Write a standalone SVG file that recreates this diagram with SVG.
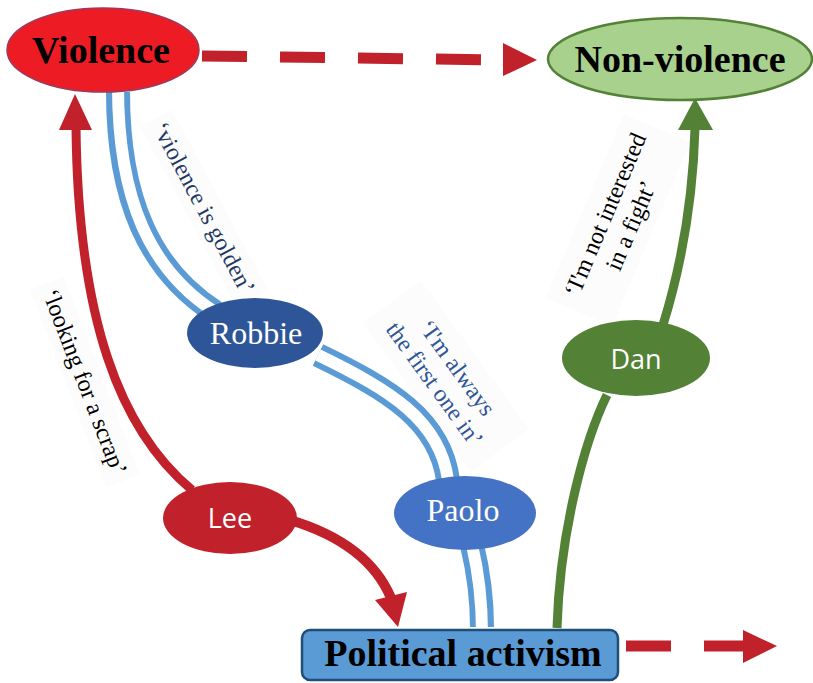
<svg xmlns="http://www.w3.org/2000/svg" width="813" height="683" viewBox="0 0 813 683">
<style>
.title{font-family:"Liberation Serif",serif;font-weight:bold;font-size:38px;fill:#000;text-anchor:middle}
.name{font-family:"Liberation Serif",serif;font-size:32px;fill:#fff;text-anchor:middle}
.sans{font-family:"Open Sans","Liberation Sans",sans-serif;font-size:27px;fill:#fff;text-anchor:middle}
.quote{font-family:"Liberation Serif",serif;font-size:24px;text-anchor:middle}
.red{fill:none;stroke:#C1212A}
.blueOuter{fill:none;stroke:#5B9BD5;stroke-width:24}
.blueInner{fill:none;stroke:#fff;stroke-width:12}
.lblbg{fill:#FCFCFC}
</style>
<rect width="813" height="683" fill="#fff"/>
<g id="labels">
  <g transform="translate(204,208) rotate(62)">
    <rect class="lblbg" x="-102" y="-18" width="204" height="36"/>
    <text class="quote" y="8" fill="#1F3864">‘violence is golden’</text>
  </g>
  <g transform="translate(446,376) rotate(54)">
    <rect class="lblbg" x="-92" y="-36" width="184" height="72"/>
    <text class="quote" y="-6" fill="#2F5597">‘I'm always</text>
    <text class="quote" y="22" fill="#2F5597">the first one in’</text>
  </g>
  <g transform="translate(618,220) rotate(-67)">
    <rect class="lblbg" x="-100" y="-36" width="200" height="72"/>
    <text class="quote" y="-6" fill="#000">‘I'm not interested</text>
    <text class="quote" y="22" fill="#000">in a fight’</text>
  </g>
  <g transform="translate(85,382) rotate(69)">
    <rect class="lblbg" x="-106" y="-18" width="212" height="36"/>
    <text class="quote" y="8" fill="#000">‘looking for a scrap’</text>
  </g>
</g>
<g id="connectors">
  <path class="red" d="M202 56 L505 60" stroke-width="11" stroke-dasharray="45 33"/>
  <polygon points="503,43 537,60 503,76" fill="#C1212A"/>
  <path class="red" d="M626 646 L745 646" stroke-width="11" stroke-dasharray="45 33"/>
  <polygon points="743,630 777,646 743,663" fill="#C1212A"/>
  <path class="blueOuter" d="M118 92 C118 200 150 270 215 312"/>
  <path class="blueInner" d="M118 86 C118 200 150 270 215 312"/>
  <path class="blueOuter" d="M318 355 C390 390 440 420 448 480"/>
  <path class="blueInner" d="M318 355 C390 390 440 420 448 480"/>
  <path class="blueOuter" d="M472 545 C478 570 482 600 482 627"/>
  <path class="blueInner" d="M472 545 C478 570 482 600 482 634"/>
  <path class="red" d="M192 490 C120 430 78 320 76 127" stroke-width="9"/>
  <polygon points="75,94 92,130 59,130" fill="#C1212A"/>
  <path class="red" d="M290 520 C340 535 375 560 391 598" stroke-width="10"/>
  <polygon points="375,600 407,592 398,627" fill="#C1212A"/>
  <path d="M663 325 C680 270 693 200 695 128" fill="none" stroke="#538135" stroke-width="9"/>
  <polygon points="695,98 713,130 678,130" fill="#538135"/>
  <path d="M607 395 C585 440 560 530 557 628" fill="none" stroke="#538135" stroke-width="9"/>
</g>
<g id="violence">
  <ellipse cx="103" cy="50" rx="96" ry="42" fill="#ED1C24" stroke="#9C3A5E" stroke-width="1.5"/>
  <text class="title" x="101" y="63">Violence</text>
</g>
<g id="nonviolence">
  <ellipse cx="680" cy="59" rx="132" ry="41" fill="#A9D18E" stroke="#538135" stroke-width="2.5"/>
  <text class="title" x="680" y="72">Non-violence</text>
</g>
<g id="robbie">
  <ellipse cx="255" cy="333" rx="68" ry="35" fill="#2E5597"/>
  <text class="name" x="256" y="344">Robbie</text>
</g>
<g id="paolo">
  <ellipse cx="465" cy="513" rx="71" ry="37" fill="#4472C4"/>
  <text class="name" x="463" y="521">Paolo</text>
</g>
<g id="lee">
  <ellipse cx="230" cy="518" rx="67" ry="36" fill="#C1212A"/>
  <text class="sans" x="230" y="528">Lee</text>
</g>
<g id="dan">
  <ellipse cx="636" cy="358" rx="74" ry="38" fill="#538135"/>
  <text class="sans" x="636" y="369">Dan</text>
</g>
<g id="activism">
  <rect x="302" y="630" width="316" height="50" rx="8" ry="8" fill="#5B9BD5" stroke="#1F4E79" stroke-width="2.5"/>
  <text class="title" x="463" y="666">Political activism</text>
</g>
</svg>
